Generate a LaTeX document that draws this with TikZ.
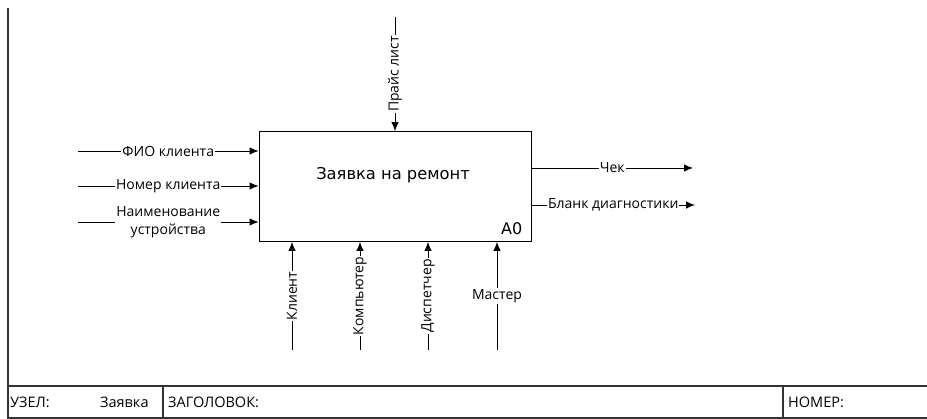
\documentclass[tikz,border=0pt]{standalone}
\usepackage{fontspec}
\setmainfont{Open Sans}
\newfontfamily\idefTitleFont{DejaVu Sans}
\usetikzlibrary{arrows.meta,positioning,calc}
\definecolor{idefInk}{HTML}{000000}
\definecolor{idefFrame}{HTML}{333333}
\tikzset{
  func/.style={draw=idefInk,line width=.9pt,minimum width=272pt,
    minimum height=110pt,inner sep=0pt},
  flow/.style={-{Latex[length=9pt,width=7.5pt]},line width=.9pt,idefInk},
  lbl/.style={fill=white,inner sep=1pt,align=center,
    font=\fontsize{14}{18.5}\selectfont,text=idefInk},
  frame/.style={draw=idefFrame,line width=1.3pt},
  cell/.style={anchor=west,inner sep=0pt,font=\fontsize{14.5}{16}\selectfont}
}
\begin{document}
\begin{tikzpicture}[x=1pt,y=-1pt]
  \useasboundingbox (0,0) rectangle (927,419);
  % function block A0
  \node[func] (box) at (395,186.5) {};
  \node[font=\idefTitleFont\fontsize{16.3}{18}\selectfont] (title) at (393,175) {Заявка на ремонт};
  \node[font=\idefTitleFont\fontsize{16}{18}\selectfont,anchor=south east,inner sep=0pt]
       (boxNum) at ([xshift=-9pt,yshift=7pt]box.south east) {A0};

  % inputs
  \coordinate (inFio) at (78,151);
  \coordinate (inPhone) at (78,186);
  \coordinate (inDevice) at (78,222);
  \draw[flow] (inFio) -- (inFio -| box.west) node[midway,lbl]{ФИО клиента};
  \draw[flow] (inPhone) -- (inPhone -| box.west) node[midway,lbl]{Номер клиента};
  \draw[flow] (inDevice) -- (inDevice -| box.west)
       node[midway,lbl]{Наименование\\устройства};

  % control
  \coordinate (ctlPrice) at (395,17);
  \draw[flow] (ctlPrice) -- (box.north) node[midway,lbl,rotate=90]{Прайс лист};

  % outputs
  \coordinate (outCheck) at (693,168);
  \coordinate (outForm) at (695,205);
  \draw[flow] (outCheck -| box.east) -- (outCheck) node[midway,lbl]{Чек};
  \draw[flow] (outForm -| box.east) -- (outForm) node[midway,lbl]{Бланк диагностики};

  % mechanisms
  \foreach \n/\x/\t in {mClient/292/Клиент,mComp/360/Компьютер,mDisp/428/Диспетчер}{
    \coordinate (\n) at (\x,350);
    \draw[flow] (\n) -- (\n |- box.south) node[midway,lbl,rotate=90]{\t};
  }
  \coordinate (mMaster) at (497,350);
  \draw[flow] (mMaster) -- (mMaster |- box.south) node[midway,lbl]{Мастер};

  % frame and title block
  \draw[frame] (8,8) -- (8,419);
  \draw[frame] (8,386) -- (927,386);
  \draw[frame] (8,418) -- (927,418);
  \draw[frame] (163,386) -- (163,418) (783,386) -- (783,418);
  \node[cell] (nodeLbl) at (10,402) {УЗЕЛ:};
  \node[cell] (nodeVal) at (100,402) {Заявка};
  \node[cell] (headLbl) at (168,402) {ЗАГОЛОВОК:};
  \node[cell] (numLbl) at (788,402) {НОМЕР:};
\end{tikzpicture}
\end{document}
